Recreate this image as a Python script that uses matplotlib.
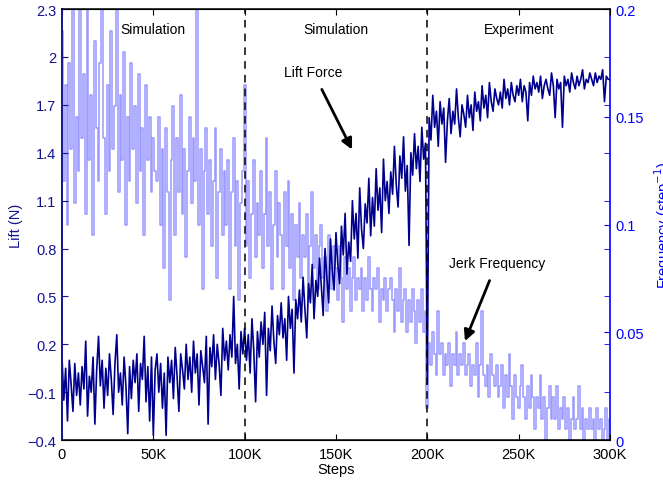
import numpy as np
import matplotlib
matplotlib.use('Agg')
import matplotlib.pyplot as plt
from matplotlib.ticker import FixedLocator

plt.rcParams['font.family'] = ['Liberation Sans', 'DejaVu Sans']

# sample positions (training steps)
steps = np.arange(0, 300001, 1000)

# lift force (N), one value per 1K steps
lift = [
    0.12, -0.15, 0.05, -0.28, 0.10, -0.05, -0.22, 0.08, -0.12, 0.02,
    -0.18, 0.06, -0.08, 0.22, -0.25, 0.00, -0.10, 0.12, -0.30, 0.04,
    0.25, -0.06, 0.10, -0.20, 0.05, -0.12, 0.14, -0.02, -0.24, 0.08,
    0.26, -0.10, 0.02, -0.18, 0.12, -0.06, -0.36, 0.06, -0.14, 0.10,
    -0.04, 0.14, -0.22, 0.08, -0.02, 0.25, -0.16, 0.06, -0.28, 0.12,
    -0.37, 0.04, 0.14, -0.10, 0.08, -0.20, 0.02, -0.37, 0.12, -0.04,
    0.10, -0.14, 0.18, 0.00, -0.22, 0.14, 0.04, -0.08, 0.20, -0.02,
    0.12, -0.10, 0.22, 0.02, 0.14, -0.18, 0.16, 0.06, -0.04, 0.25,
    -0.30, 0.18, 0.06, 0.26, -0.02, 0.20, 0.08, -0.12, 0.30, 0.10,
    0.22, 0.04, 0.26, 0.12, 0.50, 0.08, 0.20, -0.08, 0.28, 0.14,
    0.30, 0.10, 0.26, 0.02, 0.36, 0.16, -0.16, 0.28, 0.12, 0.34,
    0.20, 0.40, -0.12, 0.30, 0.16, 0.44, 0.22, 0.08, 0.38, 0.26,
    0.46, 0.24, 0.36, 0.10, 0.50, 0.30, 0.42, 0.02, 0.48, 0.36,
    0.54, 0.34, 0.62, 0.42, 0.24, 0.58, 0.46, 0.70, 0.36, 0.60,
    0.50, 0.74, 0.56, 0.38, 0.80, 0.62, 0.46, 0.86, 0.66, 0.54,
    0.90, 0.70, 0.58, 0.94, 0.76, 1.02, 0.64, 0.84, 0.72, 1.10,
    0.86, 1.02, 0.74, 1.18, 0.92, 0.80, 1.08, 0.96, 1.24, 0.88,
    1.12, 0.94, 1.30, 1.04, 1.18, 0.90, 1.36, 1.10, 1.22, 1.02,
    1.28, 1.14, 1.44, 1.20, 1.06, 1.38, 1.24, 1.50, 1.16, 1.32,
    0.82, 1.40, 1.26, 1.52, 1.30, 1.44, 1.22, 1.56, 1.36, 1.46,
    -0.05, 1.62, 1.48, 1.76, 1.56, 1.66, 1.44, 1.72, 1.58, 1.68,
    1.34, 1.60, 1.74, 1.52, 1.66, 1.58, 1.80, 1.62, 1.50, 1.70,
    1.64, 1.56, 1.76, 1.62, 1.70, 1.54, 1.78, 1.66, 1.72, 1.60,
    1.82, 1.68, 1.76, 1.62, 1.84, 1.72, 1.66, 1.80, 1.74, 1.70,
    1.78, 1.68, 1.86, 1.74, 1.80, 1.70, 1.84, 1.76, 1.72, 1.82,
    1.76, 1.86, 1.72, 1.82, 1.78, 1.60, 1.84, 1.76, 1.88, 1.80,
    1.84, 1.78, 1.88, 1.74, 1.82, 1.86, 1.80, 1.76, 1.90, 1.82,
    1.62, 1.86, 1.80, 1.84, 1.56, 1.88, 1.82, 1.86, 1.78, 1.90,
    1.84, 1.80, 1.88, 1.82, 1.86, 1.92, 1.80, 1.86, 1.84, 1.90,
    1.86, 1.82, 1.90, 1.84, 1.88, 1.86, 1.92, 1.72, 1.88, 1.86,
    1.86,
]

# jerk frequency (1/step), one value per 1K steps
freq = [
    0.19, 0.12, 0.165, 0.10, 0.175, 0.135, 0.21, 0.11, 0.15, 0.125,
    0.205, 0.14, 0.17, 0.105, 0.21, 0.13, 0.16, 0.095, 0.185, 0.145,
    0.12, 0.175, 0.21, 0.14, 0.105, 0.165, 0.125, 0.19, 0.135, 0.155,
    0.21, 0.115, 0.16, 0.13, 0.18, 0.10, 0.15, 0.12, 0.175, 0.135,
    0.155, 0.11, 0.17, 0.125, 0.145, 0.095, 0.165, 0.13, 0.15, 0.115,
    0.14, 0.125, 0.12, 0.15, 0.10, 0.135, 0.08, 0.145, 0.115, 0.065,
    0.13, 0.155, 0.095, 0.14, 0.115, 0.16, 0.105, 0.135, 0.085, 0.125,
    0.15, 0.11, 0.14, 0.12, 0.21, 0.10, 0.135, 0.07, 0.125, 0.145,
    0.105, 0.13, 0.09, 0.12, 0.145, 0.075, 0.115, 0.135, 0.095, 0.125,
    0.10, 0.13, 0.07, 0.115, 0.14, 0.09, 0.12, 0.065, 0.11, 0.125,
    0.165, 0.09, 0.12, 0.075, 0.105, 0.13, 0.085, 0.11, 0.095, 0.125,
    0.08, 0.105, 0.14, 0.09, 0.115, 0.07, 0.10, 0.125, 0.085, 0.11,
    0.095, 0.07, 0.115, 0.09, 0.12, 0.08, 0.105, 0.065, 0.10, 0.085,
    0.11, 0.075, 0.095, 0.085, 0.105, 0.065, 0.09, 0.115, 0.08, 0.095,
    0.07, 0.09, 0.10, 0.075, 0.085, 0.06, 0.095, 0.08, 0.07, 0.09,
    0.08, 0.065, 0.09, 0.075, 0.055, 0.085, 0.07, 0.08, 0.06, 0.075,
    0.085, 0.065, 0.075, 0.07, 0.08, 0.06, 0.075, 0.065, 0.085, 0.07,
    0.06, 0.075, 0.07, 0.08, 0.055, 0.07, 0.065, 0.075, 0.06, 0.07,
    0.075, 0.065, 0.05, 0.07, 0.06, 0.08, 0.055, 0.065, 0.07, 0.05,
    0.065, 0.055, 0.07, 0.06, 0.045, 0.065, 0.055, 0.07, 0.05, 0.06,
    0.015, 0.045, 0.035, 0.05, 0.04, 0.03, 0.06, 0.04, 0.045, 0.03,
    0.04, 0.035, 0.045, 0.025, 0.04, 0.035, 0.05, 0.03, 0.04, 0.035,
    0.045, 0.03, 0.035, 0.04, 0.025, 0.035, 0.03, 0.045, 0.02, 0.035,
    0.06, 0.03, 0.025, 0.035, 0.02, 0.04, 0.03, 0.025, 0.035, 0.02,
    0.025, 0.035, 0.015, 0.03, 0.02, 0.04, 0.025, 0.01, 0.03, 0.02,
    0.015, 0.025, 0.035, 0.02, 0.01, 0.025, 0.015, 0.03, 0.02, 0.005,
    0.02, 0.015, 0.03, 0.01, 0.02, 0.0, 0.015, 0.025, 0.01, 0.02,
    0.01, 0.025, 0.005, 0.015, 0.01, 0.02, 0.005, 0.015, 0.0, 0.01,
    0.02, 0.005, 0.01, 0.025, 0.005, 0.015, 0.0, 0.01, 0.005, 0.015,
    0.005, 0.01, 0.0, 0.015, 0.005, 0.01, 0.0, 0.005, 0.015, 0.0,
    0.01,
]

x_ticks = [0, 50000, 100000, 150000, 200000, 250000, 300000]
x_labels = ['0', '50K', '100K', '150K', '200K', '250K', '300K']
lift_ticks = [-0.4, -0.1, 0.2, 0.5, 0.8, 1.1, 1.4, 1.7, 2.0, 2.3]
lift_labels = ['\u22120.4', '\u22120.1', '0.2', '0.5', '0.8', '1.1', '1.4', '1.7', '2', '2.3']
freq_ticks = [0, 0.05, 0.1, 0.15, 0.2]
freq_labels = ['0', '0.05', '0.1', '0.15', '0.2']
phase_names = ['Simulation', 'Simulation', 'Experiment']
phase_centers = [50000, 150000, 250000]
phase_bounds = [100000, 200000]

dark = '#00008f'
axis_dark = '#141490'
light = '#9999ff'
blue = '#0000ff'

fig = plt.figure(figsize=(6.63, 4.81), dpi=100)
ax1 = fig.add_axes([0.0935, 0.083, 0.8265, 0.896])
ax2 = ax1.twinx()

# frequency underneath, lift on top
ax2.plot(steps, freq, color=light, lw=1.1, drawstyle='steps-mid')
ax1.set_zorder(ax2.get_zorder() + 1)
ax1.patch.set_visible(False)
ax1.plot(steps, lift, color=dark, lw=1.2)

for b in phase_bounds:
    ax1.axvline(b, color='k', ls=(0, (5, 4)), lw=1.1)
for name, c in zip(phase_names, phase_centers):
    ax1.text(c, 2.175, name, ha='center', va='center', fontsize=10)

ax1.annotate('Lift Force', xy=(158800, 1.42), xytext=(137500, 1.905),
             ha='center', va='center', fontsize=10,
             arrowprops=dict(arrowstyle='-|>', color='k', lw=2,
                             mutation_scale=16, shrinkA=6, shrinkB=0))
ax1.annotate('Jerk Frequency', xy=(220600, 0.22), xytext=(238000, 0.709),
             ha='center', va='center', fontsize=10,
             arrowprops=dict(arrowstyle='-|>', color='k', lw=2,
                             mutation_scale=16, shrinkA=6, shrinkB=0))

ax1.set_xlim(0, 300000)
ax1.set_ylim(-0.4, 2.3)
ax2.set_ylim(0, 0.2)

ax1.set_xticks(x_ticks)
ax1.set_xticklabels(x_labels)
ax1.set_yticks(lift_ticks)
ax1.set_yticklabels(lift_labels)
ax1.tick_params(axis='x', direction='in', top=True, labelsize=10.5, length=4, pad=5)
ax1.tick_params(axis='y', direction='in', right=False, colors=axis_dark,
                labelsize=10.5, length=4, pad=4)
ax1.set_xlabel('Steps', fontsize=10.5, labelpad=1)
ax1.set_ylabel('Lift (N)', color=axis_dark, fontsize=10.5, labelpad=3)

ax2.set_yticks(freq_ticks)
ax2.set_yticklabels(freq_labels)
ax2.yaxis.set_minor_locator(FixedLocator([(v + 0.4) / 13.5 for v in lift_ticks]))
ax2.tick_params(axis='y', which='both', direction='in', colors=blue,
                labelsize=10.5, length=4, pad=4)
ax2.set_ylabel('Frequency (step$^{-1}$)', color=blue, fontsize=10.5, labelpad=6)

ax1.spines['left'].set_color(axis_dark)
ax1.spines['left'].set_linewidth(1.4)
ax1.spines['right'].set_visible(False)
ax2.spines['left'].set_visible(False)
ax2.spines['right'].set_color(blue)
ax2.spines['right'].set_linewidth(1.2)
for s in ('top', 'bottom'):
    ax1.spines[s].set_linewidth(1.1)

fig.savefig('out.png', dpi=100)
